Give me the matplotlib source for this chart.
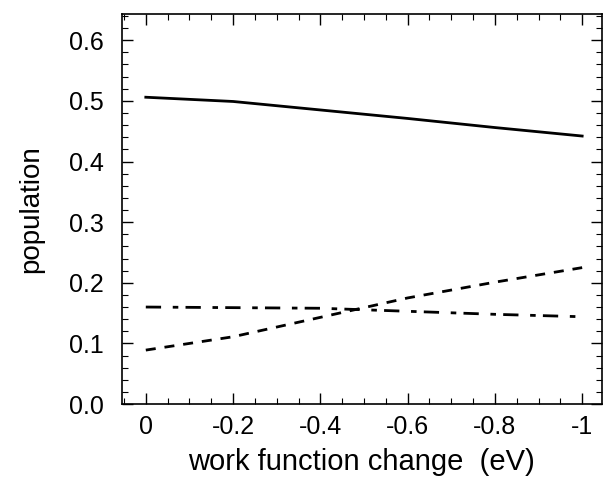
import matplotlib.pyplot as plt
from matplotlib.ticker import MultipleLocator

plt.rcParams['font.family'] = ['Liberation Sans', 'DejaVu Sans']

# work function change (eV) and populations
dphi = [0.0, -0.2, -0.4, -0.6, -0.8, -1.0]
pop_solid = [0.506, 0.499, 0.485, 0.471, 0.456, 0.442]
pop_dashed = [0.089, 0.111, 0.143, 0.175, 0.201, 0.225]
pop_dashdot = [0.160, 0.159, 0.158, 0.153, 0.148, 0.144]

xticks = [0, -0.2, -0.4, -0.6, -0.8, -1]
xticklabels = ['0', '-0.2', '-0.4', '-0.6', '-0.8', '-1']

fig = plt.figure(figsize=(6.03, 4.88), dpi=100)
ax = fig.add_axes([0.202, 0.172, 0.796, 0.799])

ax.plot(dphi, pop_solid, color='black', lw=2.0)
ax.plot(dphi, pop_dashed, color='black', lw=2.0, dashes=(3.6, 3.2))
ax.plot(dphi, pop_dashdot, color='black', lw=2.0, dashes=(5.5, 4.2, 2.0, 2.6))

ax.set_xlim(0.055, -1.045)
ax.set_ylim(0, 0.643)
ax.set_xticks(xticks)
ax.set_xticklabels(xticklabels)
ax.set_yticks([0, 0.1, 0.2, 0.3, 0.4, 0.5, 0.6])
ax.set_yticklabels(['0.0', '0.1', '0.2', '0.3', '0.4', '0.5', '0.6'])
ax.xaxis.set_minor_locator(MultipleLocator(0.05))
ax.yaxis.set_minor_locator(MultipleLocator(0.02))

ax.tick_params(which='both', direction='in', top=True, right=True, labelsize=18)
ax.tick_params(which='major', length=8, width=1)
ax.tick_params(which='minor', length=4, width=0.8)
ax.tick_params(axis='x', pad=8)
ax.tick_params(axis='y', pad=13)
for s in ax.spines.values():
    s.set_linewidth(1.2)

ax.set_xlabel('work function change  (eV)', fontsize=21, labelpad=6)
ax.set_ylabel('population', fontsize=20, labelpad=18)

fig.savefig('out.png', dpi=100)
